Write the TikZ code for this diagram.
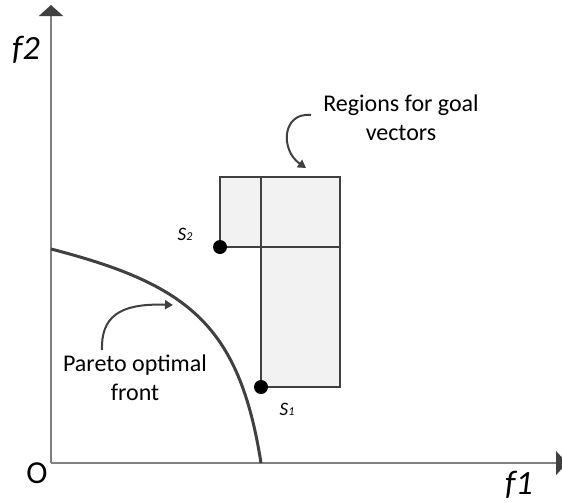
\documentclass[tikz,border=0pt]{standalone}
\usepackage{fontspec}
\setmainfont{Carlito}
\usepackage{tikz}
\usetikzlibrary{arrows.meta}
\definecolor{ink}{HTML}{404040}
\definecolor{axisgray}{HTML}{808080}
\definecolor{regfill}{HTML}{F2F2F2}
\tikzset{
  axisline/.style={draw=axisgray,line width=0.75pt,-{Triangle[length=5.5pt,width=12pt,color=ink]}},
  paretocurve/.style={draw=ink,line width=1.5pt},
  region/.style={fill=regfill},
  regedge/.style={draw=ink,line width=1pt},
  dot/.style={circle,fill=black,inner sep=0pt,minimum size=7pt},
  pointer/.style={draw=ink,line width=1pt,-{Triangle[length=4pt,width=4.5pt]}},
  txt/.style={font=\fontsize{12}{14.5}\selectfont,align=center,inner sep=0pt},
  axlbl/.style={font=\fontsize{17}{19}\selectfont\itshape,inner sep=0pt},
  ptlbl/.style={font=\fontsize{9.5}{11}\selectfont\itshape,inner sep=0pt}
}
\newcommand{\subdigit}[1]{{\fontsize{6}{7}\selectfont #1}}

\begin{document}
\begin{tikzpicture}[x=0.5pt,y=-0.5pt]
  \useasboundingbox (0,0) rectangle (562,503);
  % axes
  \coordinate (o) at (51,463);
  \coordinate (ytop) at (51,5);
  \coordinate (xend) at (567,463);
  \draw[axisline] (o) -- (ytop);
  \draw[axisline] (o) -- (xend);
  \node[axlbl] (f2) at (26,50) {f2};
  \node[axlbl] (f1) at (519,485) {f1};
  \node[font=\fontsize{16}{18}\selectfont,inner sep=0pt] (origin) at (37,473) {O};
  % goal regions
  \coordinate (p2) at (220,247);
  \coordinate (p1) at (261,387);
  \coordinate (corner) at (340,177);
  \fill[region] (p2) rectangle (corner) (p1) rectangle (corner);
  \draw[regedge] (p2) rectangle (corner) (p1) rectangle (corner);
  \node[dot] (s2) at (p2) {};
  \node[dot] (s1) at (p1) {};
  \node[ptlbl] (s2lbl) at (185,234) {S\subdigit{2}};
  \node[ptlbl] (s1lbl) at (287,409) {S\subdigit{1}};
  % pareto front
  \draw[paretocurve] (51,249) .. controls (186,284) and (239,323) .. (261,463);
  % labels and pointers
  \node[txt] (regions) at (401,118) {Regions for goal\\vectors};
  \node[txt] (pareto) at (135,378) {Pareto optimal\\front};
  \coordinate (rstart) at (311,115);
  \coordinate (rend) at (306,168);
  \coordinate (pstart) at (102,350);
  \coordinate (pend) at (173,305);
  \draw[pointer] (rstart) .. controls (282,112) and (280,150) .. (rend);
  \draw[pointer] (pstart) .. controls (101,318) and (118,303) .. (pend);
\end{tikzpicture}
\end{document}
